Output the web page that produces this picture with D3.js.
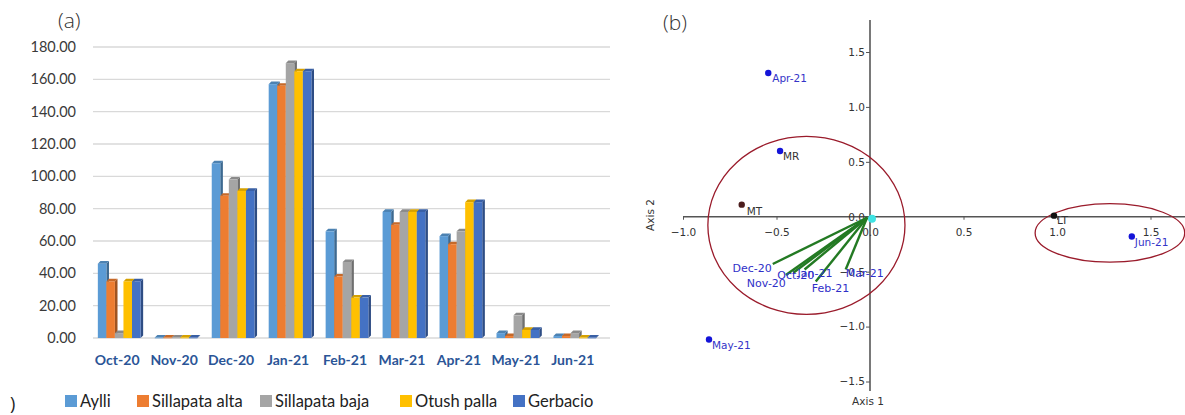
<!DOCTYPE html>
<html>
<head>
<meta charset="utf-8">
<script src="https://cdn.jsdelivr.net/npm/d3@7"></script>
<style>
  html, body { margin: 0; padding: 0; background: #fff; }
  svg { display: block; }
</style>
</head>
<body>
<svg id="chart" width="1185" height="415"></svg>
<script>
// ---- Panel (a): monthly values per site ----
const months = ["Oct-20", "Nov-20", "Dec-20", "Jan-21", "Feb-21", "Mar-21", "Apr-21", "May-21", "Jun-21"];
const sites = ["Aylli", "Sillapata alta", "Sillapata baja", "Otush palla", "Gerbacio"];
const aylli         = [46, 0.3, 108, 157, 66, 78, 63, 3, 1.2];
const sillapataAlta = [35, 0.3, 88, 156, 38, 70, 58, 1.2, 1.2];
const sillapataBaja = [3, 0.3, 98, 170, 47, 78, 66, 14, 3];
const otushPalla    = [35, 0.3, 91, 165, 25, 78, 84, 5, 0.3];
const gerbacio      = [35, 0.3, 91, 165, 25, 78, 84, 5, 0.3];
const yTicksA = [0, 20, 40, 60, 80, 100, 120, 140, 160, 180];

// ---- Panel (b): ordination biplot ----
const pointNames = ["Apr-21", "MR", "MT", "LT", "Jun-21", "May-21"];
const pointAxis1 = [-0.544, -0.481, -0.686, 0.984, 1.40, -0.861];
const pointAxis2 = [1.309, 0.599, 0.11, 0.01, -0.18, -1.117];
const vectorNames = ["Dec-20", "Nov-20", "Oct-20", "Jan-21", "Feb-21", "Mar-21"];
const vectorAxis1 = [-0.52, -0.45, -0.41, -0.35, -0.29, -0.13];
const vectorAxis2 = [-0.43, -0.53, -0.51, -0.48, -0.59, -0.48];
const xTicksB = [-1.0, -0.5, 0.0, 0.5, 1.0, 1.5];
const yTicksB = [-1.5, -1.0, -0.5, 0.0, 0.5, 1.0, 1.5];
// grouping ellipses: centre and radii in axis units
const ellipseCx = [-0.34, 1.283];
const ellipseCy = [-0.078, -0.147];
const ellipseRx = [0.527, 0.40];
const ellipseRy = [0.81, 0.266];

const svg = d3.select("#chart");

// ================= Panel (a) =================
const seriesValues = [aylli, sillapataAlta, sillapataBaja, otushPalla, gerbacio];
const siteColors = ["#5B9BD5", "#ED7D31", "#A5A5A5", "#FFC000", "#4472C4"];

const gA = svg.append("g");
const yA = d3.scaleLinear().domain([0, 180]).range([338, 47]);
const x0 = d3.scaleBand().domain(months).range([91, 603]).paddingInner(0.25).paddingOuter(0.12);
const x1 = d3.scaleBand().domain(sites).range([0, x0.bandwidth()]);

// gridlines
gA.append("g").selectAll("line").data(yTicksA).join("line")
  .attr("x1", 93).attr("x2", 610)
  .attr("y1", d => yA(d)).attr("y2", d => yA(d))
  .attr("stroke", "#d9d9d9").attr("stroke-width", 1.4);

// y-axis labels
const yAxisA = d3.axisLeft(yA).tickValues(yTicksA).tickFormat(d => d.toFixed(2)).tickSize(0).tickPadding(0);
gA.append("g").attr("transform", "translate(76,0)").call(yAxisA)
  .call(g => g.select(".domain").remove())
  .selectAll("text")
  .attr("font-family", "Lato, 'Open Sans', sans-serif")
  .attr("font-size", 14.5).attr("fill", "#3a3a3a");

// 3D-look clustered bars
const depth = 2.6;
const barGroups = gA.append("g").selectAll("g").data(months).join("g")
  .attr("transform", d => `translate(${x0(d)},0)`);
barGroups.each(function (month, mi) {
  const g = d3.select(this);
  sites.forEach((site, si) => {
    const v = seriesValues[si][mi];
    const bx = x1(site), bw = x1.bandwidth();
    const top = yA(v), bottom = yA(0);
    const c = d3.color(siteColors[si]);
    // side face
    g.append("path")
      .attr("d", `M${bx + bw},${bottom} L${bx + bw + depth},${bottom - depth} L${bx + bw + depth},${top - depth} L${bx + bw},${top} Z`)
      .attr("fill", c.darker(1.1));
    // top face
    g.append("path")
      .attr("d", `M${bx},${top} L${bx + depth},${top - depth} L${bx + bw + depth},${top - depth} L${bx + bw},${top} Z`)
      .attr("fill", c.darker(0.5));
    // front face
    g.append("rect")
      .attr("x", bx).attr("y", top)
      .attr("width", bw).attr("height", Math.max(0.8, bottom - top))
      .attr("fill", c);
  });
});

// category labels
const xAxisA = d3.axisBottom(x0).tickSize(0).tickPadding(0);
gA.append("g").attr("transform", "translate(-2,355)").call(xAxisA)
  .call(g => g.select(".domain").remove())
  .selectAll("text")
  .attr("font-family", "Lato, 'Open Sans', sans-serif")
  .attr("font-weight", "bold")
  .attr("font-size", 14).attr("fill", "#2b5597");

// legend
const legendX = [65, 137, 260, 400, 513];
const legend = gA.append("g").selectAll("g").data(sites).join("g")
  .attr("transform", (d, i) => `translate(${legendX[i]},395)`);
legend.append("rect").attr("width", 12).attr("height", 12)
  .attr("fill", (d, i) => siteColors[i]);
legend.append("text").attr("x", 15).attr("y", 12)
  .attr("font-family", "Lato, 'Open Sans', sans-serif")
  .attr("font-size", 16.5).attr("fill", "#222")
  .text(d => d);

gA.append("text").attr("x", 58).attr("y", 28)
  .attr("font-family", "'Open Sans', 'Noto Sans', sans-serif")
  .attr("font-weight", 300)
  .attr("font-size", 21).attr("fill", "#333").text("(a)");
gA.append("text").attr("x", 10).attr("y", 410)
  .attr("font-family", "'Open Sans', 'Noto Sans', sans-serif")
  .attr("font-size", 18).attr("fill", "#222").text(")");

// ================= Panel (b) =================
const gB = svg.append("g");
const xB = d3.scaleLinear().domain([-1, 1.5]).range([683, 1150.5]);
const yB = d3.scaleLinear().domain([-1.5, 1.5]).range([381.5, 52]);
const tickFont = "'DejaVu Sans', Verdana, sans-serif";

// axis lines through the origin
gB.append("line").attr("x1", xB(-1)).attr("x2", 1185)
  .attr("y1", yB(0)).attr("y2", yB(0))
  .attr("stroke", "#555").attr("stroke-width", 1.3);
gB.append("line").attr("x1", xB(0)).attr("x2", xB(0))
  .attr("y1", 20).attr("y2", 391)
  .attr("stroke", "#6a6a6a").attr("stroke-width", 1.8);

const xAxisB = d3.axisBottom(xB).tickValues(xTicksB).tickFormat(d3.format(".1f")).tickSize(3).tickPadding(8.5);
gB.append("g").attr("transform", `translate(0,${yB(0)})`).call(xAxisB)
  .call(g => g.select(".domain").remove())
  .call(g => g.selectAll("line").attr("stroke", "#555"))
  .selectAll("text").attr("font-family", tickFont).attr("font-size", 10.5).attr("fill", "#333");

const yAxisB = d3.axisLeft(yB).tickValues(yTicksB).tickFormat(d3.format(".1f")).tickSize(4).tickPadding(1);
gB.append("g").attr("transform", `translate(${xB(0)},0)`).call(yAxisB)
  .call(g => g.select(".domain").remove())
  .call(g => g.selectAll("line").attr("stroke", "#555"))
  .selectAll("text").attr("font-family", tickFont).attr("font-size", 10.5).attr("fill", "#333");

// axis titles
gB.append("text").attr("x", xB(0) - 2).attr("y", 405).attr("text-anchor", "middle")
  .attr("font-family", tickFont).attr("font-size", 10.5).attr("fill", "#333").text("Axis 1");
gB.append("text").attr("transform", "translate(654,215) rotate(-90)").attr("text-anchor", "middle")
  .attr("font-family", tickFont).attr("font-size", 10.5).attr("fill", "#333").text("Axis 2");

gB.append("text").attr("x", 663).attr("y", 30)
  .attr("font-family", "'Open Sans', 'Noto Sans', sans-serif")
  .attr("font-weight", 300)
  .attr("font-size", 21).attr("fill", "#333").text("(b)");

// grouping ellipses
gB.append("g").selectAll("ellipse").data(ellipseCx).join("ellipse")
  .attr("cx", d => xB(d))
  .attr("cy", (d, i) => yB(ellipseCy[i]))
  .attr("rx", (d, i) => xB(ellipseRx[i]) - xB(0))
  .attr("ry", (d, i) => yB(0) - yB(ellipseRy[i]))
  .attr("fill", "none").attr("stroke", "#9a1b2b").attr("stroke-width", 1.3);

// month vectors
const vecColor = "#237a23";
gB.append("g").selectAll("line").data(vectorNames).join("line")
  .attr("x1", xB(0) - 3).attr("y1", yB(0) + 1)
  .attr("x2", (d, i) => xB(vectorAxis1[i]))
  .attr("y2", (d, i) => yB(vectorAxis2[i]))
  .attr("stroke", vecColor).attr("stroke-width", 2.4);

// origin marker
gB.append("circle").attr("cx", xB(0) + 2).attr("cy", yB(0) + 2).attr("r", 4).attr("fill", "#3fe3e3");

const vecLabelAnchor = ["end", "end", "start", "start", "start", "start"];
const vecLabelDx = [-1, 0, -16, -7, -4, 0];
const vecLabelDy = [8, 12, 6, 8, 10, 8];
gB.append("g").selectAll("text").data(vectorNames).join("text")
  .attr("x", (d, i) => xB(vectorAxis1[i]) + vecLabelDx[i])
  .attr("y", (d, i) => yB(vectorAxis2[i]) + vecLabelDy[i])
  .attr("text-anchor", (d, i) => vecLabelAnchor[i])
  .attr("font-family", tickFont).attr("font-size", 11).attr("fill", "#2f2fc8")
  .text(d => d);

// sample and site points
const dotColor = { "Apr-21": "#1414d8", "MR": "#1414d8", "MT": "#4b1c1c", "LT": "#111", "Jun-21": "#1414d8", "May-21": "#1414d8" };
const labelColor = { "Apr-21": "#3434c8", "MR": "#333", "MT": "#333", "LT": "#333", "Jun-21": "#3434c8", "May-21": "#3434c8" };
const ptDx = [4, 3, 5, 3, 3, 3];
const ptDy = [9, 9, 10, 8, 9, 10];
gB.append("g").selectAll("circle").data(pointNames).join("circle")
  .attr("cx", (d, i) => xB(pointAxis1[i]))
  .attr("cy", (d, i) => yB(pointAxis2[i]))
  .attr("r", 3.2)
  .attr("fill", d => dotColor[d]);
gB.append("g").selectAll("text").data(pointNames).join("text")
  .attr("x", (d, i) => xB(pointAxis1[i]) + ptDx[i])
  .attr("y", (d, i) => yB(pointAxis2[i]) + ptDy[i])
  .attr("font-family", tickFont).attr("font-size", 10.5)
  .attr("fill", d => labelColor[d])
  .text(d => d);
</script>
</body>
</html>
